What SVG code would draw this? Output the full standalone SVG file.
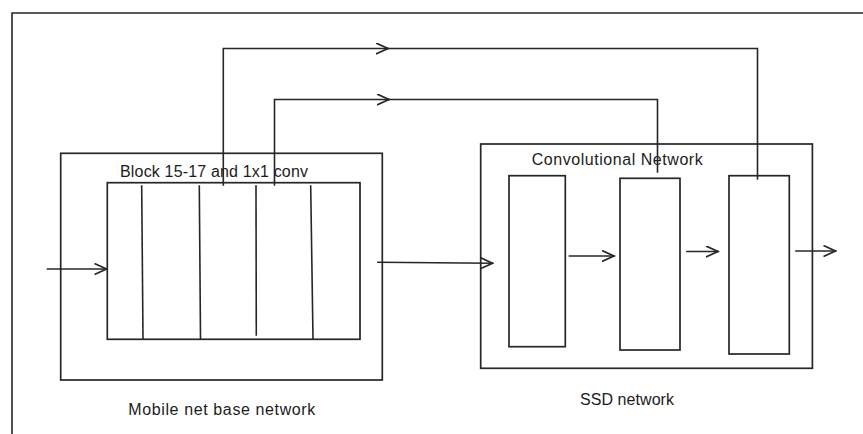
<svg xmlns="http://www.w3.org/2000/svg" width="863" height="434" viewBox="0 0 863 434">
<style>
.ln{fill:none;stroke:#262626;stroke-width:1.6;stroke-linecap:square}
.bx{fill:none;stroke:#262626;stroke-width:1.7}
.t{font-family:"Liberation Sans",Arial,sans-serif;font-size:16px;fill:#1c1c1c}
</style>
<defs>
<marker id="ah" markerUnits="userSpaceOnUse" markerWidth="14" markerHeight="14" refX="12.5" refY="6" orient="auto" viewBox="0 0 14 14">
<path d="M0.5,0.5 L12.5,6 L0.5,11.5" fill="none" stroke="#262626" stroke-width="1.7"/>
</marker>
</defs>
<rect width="863" height="434" fill="#fff"/>
<path class="ln" d="M12,440 V13 H870"/>
<g id="mobile">
<rect class="bx" x="60.7" y="153.3" width="321.6" height="226.7"/>
<rect class="bx" x="107.3" y="182.7" width="252.7" height="156.6"/>
<line class="ln" x1="141.7" y1="186" x2="143" y2="338.5"/>
<line class="ln" x1="199.3" y1="186" x2="200.5" y2="338.5"/>
<line class="ln" x1="256" y1="186" x2="256.3" y2="335"/>
<line class="ln" x1="310.7" y1="186" x2="313" y2="338.5"/>
<text class="t" x="120" y="176.7" textLength="188" lengthAdjust="spacing">Block 15-17 and 1x1 conv</text>
<text class="t" x="128.3" y="415" textLength="187" lengthAdjust="spacing">Mobile net base network</text>
</g>
<g id="ssd">
<rect class="bx" x="480.7" y="144" width="331.7" height="224.3"/>
<text class="t" x="531.7" y="165" textLength="171" lengthAdjust="spacing">Convolutional Network</text>
<text class="t" x="580" y="405" textLength="94" lengthAdjust="spacing">SSD network</text>
</g>
<g id="conv1"><rect class="bx" x="509" y="175.7" width="56.3" height="171"/></g>
<g id="conv2"><rect class="bx" x="620" y="178.3" width="60" height="171.7"/></g>
<g id="conv3"><rect class="bx" x="729" y="175.7" width="60.3" height="178.3"/></g>
<g id="connectors">
<path class="ln" d="M223.3,185 V48.5 H388" marker-end="url(#ah)"/>
<path class="ln" d="M388,48.5 H757.5 V179"/>
<path class="ln" d="M274.5,185 V99.5 H389" marker-end="url(#ah)"/>
<path class="ln" d="M389,99.5 H657.5 V172"/>
<path class="ln" d="M47.5,269 H106.5" marker-end="url(#ah)"/>
<path class="ln" d="M378,262.3 L492.5,263.3" marker-end="url(#ah)"/>
<path class="ln" d="M569.5,256 H614" marker-end="url(#ah)"/>
<path class="ln" d="M687,251.5 H718" marker-end="url(#ah)"/>
<path class="ln" d="M796,251 H835.5" marker-end="url(#ah)"/>
</g>
</svg>
